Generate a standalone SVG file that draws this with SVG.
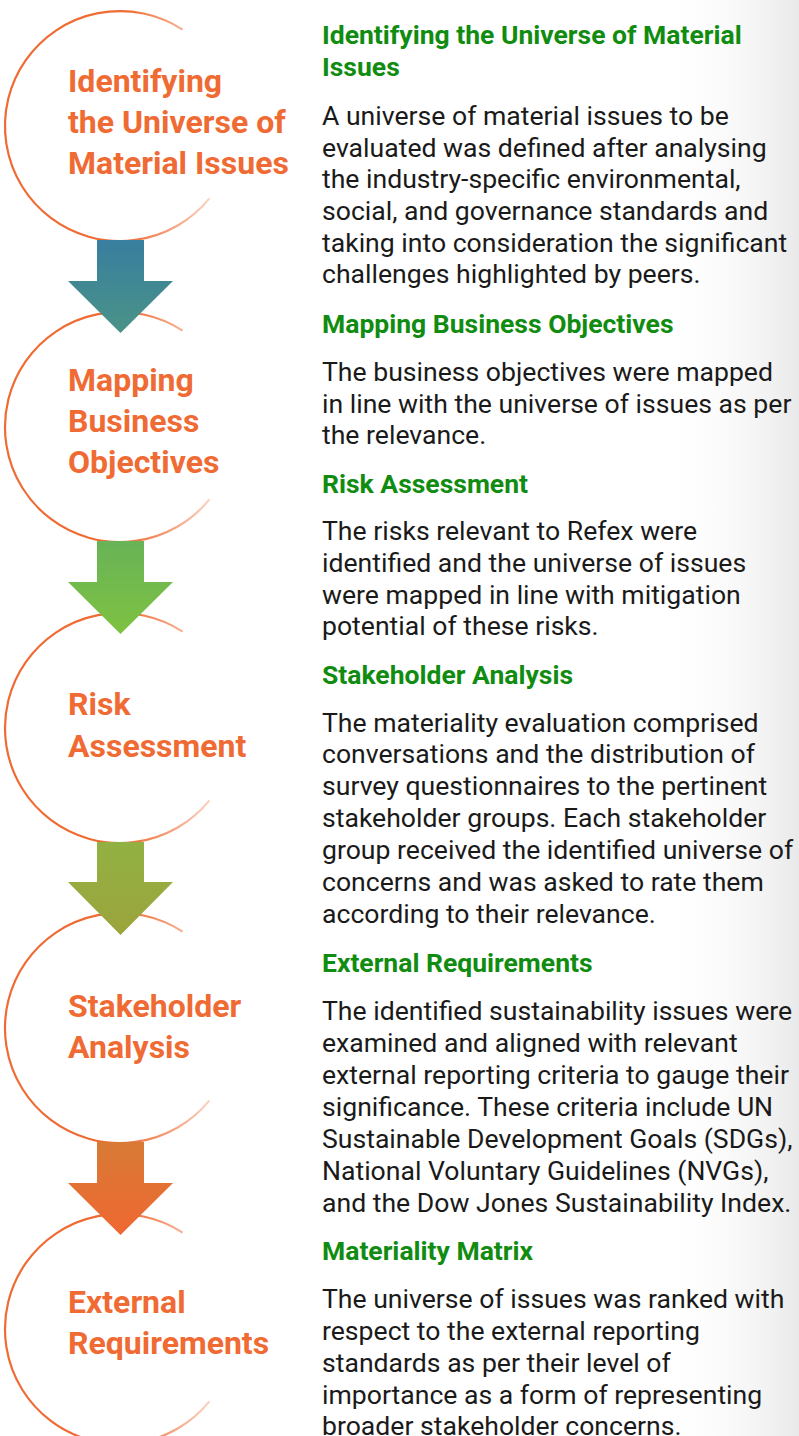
<svg xmlns="http://www.w3.org/2000/svg" width="799" height="1436" viewBox="0 0 799 1436">
<style>
.ring{fill:none;stroke:url(#ringFade);stroke-width:2.2}
.lbl{font-family:Roboto,"Liberation Sans",sans-serif;font-weight:700;font-size:32px;fill:#ef6b33}
.hd{font-family:Roboto,"Liberation Sans",sans-serif;font-weight:700;font-size:26.5px;fill:#108c10}
.bd{font-family:Roboto,"Liberation Sans",sans-serif;font-weight:400;font-size:26.6px;fill:#1a1a1a}
</style>
<defs>
<linearGradient id="bg" x1="0" y1="0" x2="1" y2="0">
<stop offset="0" stop-color="#ffffff" stop-opacity="0"/>
<stop offset="1" stop-color="#e9e9e9"/>
</linearGradient>
<linearGradient id="ringFade" x1="0" y1="0" x2="1" y2="0">
<stop offset="0" stop-color="#ef6b33"/>
<stop offset="0.6" stop-color="#ef6b33"/>
<stop offset="1" stop-color="#ef6b33" stop-opacity="0.3"/>
</linearGradient>
<linearGradient id="a1" x1="0" y1="0" x2="0" y2="1">
<stop offset="0" stop-color="#387e9f"/><stop offset="1" stop-color="#4a9387"/>
</linearGradient>
<linearGradient id="a2" x1="0" y1="0" x2="0" y2="1">
<stop offset="0" stop-color="#68b357"/><stop offset="1" stop-color="#7ec241"/>
</linearGradient>
<linearGradient id="a3" x1="0" y1="0" x2="0" y2="1">
<stop offset="0" stop-color="#92b143"/><stop offset="1" stop-color="#9ca43c"/>
</linearGradient>
<linearGradient id="a4" x1="0" y1="0" x2="0" y2="1">
<stop offset="0" stop-color="#d87a36"/><stop offset="1" stop-color="#ef6831"/>
</linearGradient>
</defs>
<rect width="799" height="1436" fill="#ffffff"/>
<rect x="660" y="0" width="139" height="1436" fill="url(#bg)"/>

<g id="node1">
<path class="ring" d="M182.6 29.6 A115 115 0 1 0 209.4 198.4"/>
<text class="lbl" x="68" y="92">Identifying</text>
<text class="lbl" x="68" y="133">the Universe of</text>
<text class="lbl" x="68" y="174">Material Issues</text>
</g>
<g id="node2">
<path class="ring" d="M182.6 330.6 A115 115 0 1 0 209.4 499.4"/>
<text class="lbl" x="68" y="391">Mapping</text>
<text class="lbl" x="68" y="432">Business</text>
<text class="lbl" x="68" y="473">Objectives</text>
</g>
<g id="node3">
<path class="ring" d="M182.6 631.6 A115 115 0 1 0 209.4 800.4"/>
<text class="lbl" x="68" y="715">Risk</text>
<text class="lbl" x="68" y="757">Assessment</text>
</g>
<g id="node4">
<path class="ring" d="M182.6 931.6 A115 115 0 1 0 209.4 1100.4"/>
<text class="lbl" x="68" y="1017">Stakeholder</text>
<text class="lbl" x="68" y="1058">Analysis</text>
</g>
<g id="node5">
<path class="ring" d="M182.6 1232.6 A115 115 0 1 0 209.4 1401.4"/>
<text class="lbl" x="68" y="1313">External</text>
<text class="lbl" x="68" y="1354">Requirements</text>
</g>

<g id="connectors">
<polygon fill="url(#a1)" points="97,240 144,240 144,281 173,281 120.5,333 68,281 97,281"/>
<polygon fill="url(#a2)" points="97,541 144,541 144,582 173,582 120.5,634 68,582 97,582"/>
<polygon fill="url(#a3)" points="97,842 144,842 144,882 173,882 120.5,935 68,882 97,882"/>
<polygon fill="url(#a4)" points="97,1142 144,1142 144,1183 173,1183 120.5,1235 68,1183 97,1183"/>
</g>

<g id="descriptions">
<text class="hd" x="322" y="44">Identifying the Universe of Material</text>
<text class="hd" x="322" y="76">Issues</text>
<text class="bd" x="322" y="125">A universe of material issues to be</text>
<text class="bd" x="322" y="157">evaluated was defined after analysing</text>
<text class="bd" x="322" y="188">the industry-specific environmental,</text>
<text class="bd" x="322" y="220">social, and governance standards and</text>
<text class="bd" x="322" y="252">taking into consideration the significant</text>
<text class="bd" x="322" y="283">challenges highlighted by peers.</text>

<text class="hd" x="322" y="333">Mapping Business Objectives</text>
<text class="bd" x="322" y="381">The business objectives were mapped</text>
<text class="bd" x="322" y="413">in line with the universe of issues as per</text>
<text class="bd" x="322" y="444">the relevance.</text>

<text class="hd" x="322" y="493">Risk Assessment</text>
<text class="bd" x="322" y="540">The risks relevant to Refex were</text>
<text class="bd" x="322" y="572">identified and the universe of issues</text>
<text class="bd" x="322" y="604">were mapped in line with mitigation</text>
<text class="bd" x="322" y="635">potential of these risks.</text>

<text class="hd" x="322" y="684">Stakeholder Analysis</text>
<text class="bd" x="322" y="732">The materiality evaluation comprised</text>
<text class="bd" x="322" y="763">conversations and the distribution of</text>
<text class="bd" x="322" y="795">survey questionnaires to the pertinent</text>
<text class="bd" x="322" y="827">stakeholder groups. Each stakeholder</text>
<text class="bd" x="322" y="859">group received the identified universe of</text>
<text class="bd" x="322" y="891">concerns and was asked to rate them</text>
<text class="bd" x="322" y="923">according to their relevance.</text>

<text class="hd" x="322" y="972">External Requirements</text>
<text class="bd" x="322" y="1020">The identified sustainability issues were</text>
<text class="bd" x="322" y="1052">examined and aligned with relevant</text>
<text class="bd" x="322" y="1084">external reporting criteria to gauge their</text>
<text class="bd" x="322" y="1116">significance. These criteria include UN</text>
<text class="bd" x="322" y="1148">Sustainable Development Goals (SDGs),</text>
<text class="bd" x="322" y="1180">National Voluntary Guidelines (NVGs),</text>
<text class="bd" x="322" y="1212">and the Dow Jones Sustainability Index.</text>

<text class="hd" x="322" y="1260">Materiality Matrix</text>
<text class="bd" x="322" y="1308">The universe of issues was ranked with</text>
<text class="bd" x="322" y="1340">respect to the external reporting</text>
<text class="bd" x="322" y="1372">standards as per their level of</text>
<text class="bd" x="322" y="1404">importance as a form of representing</text>
<text class="bd" x="322" y="1435">broader stakeholder concerns.</text>
</g>
</svg>
